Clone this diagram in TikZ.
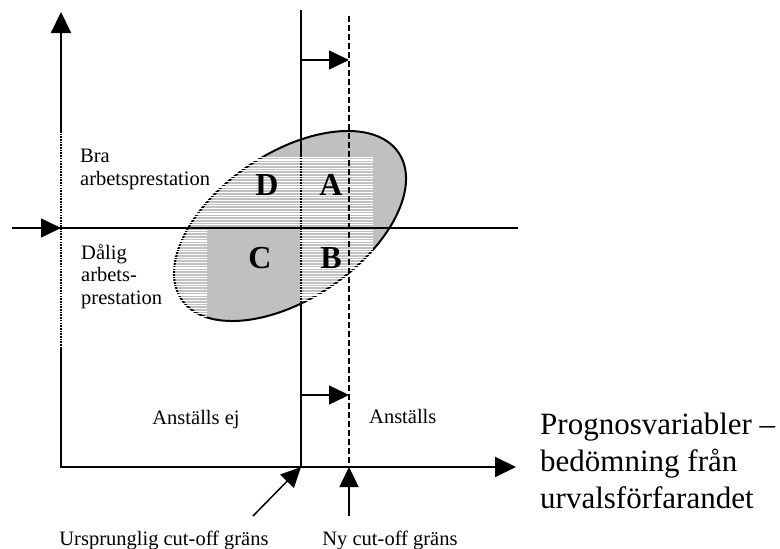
\documentclass[tikz,border=0pt]{standalone}
\usepackage{fontspec}
\setmainfont{Liberation Serif}
\usetikzlibrary{arrows.meta}
\definecolor{ellgray}{RGB}{192,192,192}
\tikzset{
  axis/.style={line width=2pt, {Triangle[length=21pt,width=20pt]}-{Triangle[length=21pt,width=20pt]}},
  push/.style={line width=1.5pt, -{Triangle[length=20pt,width=19pt]}},
  txt/.style={font=\fontsize{20.5}{22.5}\selectfont, inner sep=0pt, align=left},
  bigtxt/.style={font=\fontsize{31}{37}\selectfont, inner sep=0pt, align=left},
  quad/.style={font=\fontsize{32}{32}\selectfont\bfseries, inner sep=0pt}
}

\begin{document}
\begin{tikzpicture}[x=1pt,y=-1pt]
\useasboundingbox (0,0) rectangle (780,549);
% Coordinates
\coordinate (O) at (61,467);
\coordinate (ytop) at (61,12);
\coordinate (xend) at (516,467);
\coordinate (hstart) at (12,228);
\coordinate (hmid) at (61,228);
\coordinate (hend) at (518,228);
\coordinate (cuttop) at (301,10);
\coordinate (cutbot) at (301,467);
\coordinate (newtop) at (349,16);
\coordinate (newbot) at (349,467);
\coordinate (top1) at (301,60);
\coordinate (top2) at (349,60);
\coordinate (low1) at (301,395);
\coordinate (low2) at (349,395);
\coordinate (ursfoot) at (253,516);
\coordinate (nyfoot) at (349,516);
% Ellipse
\draw[fill=ellgray, line width=2pt, rotate around={34:(290,226)}] (290,226) ellipse [x radius=131, y radius=73];
% Lines under the hatching
\draw[axis] (ytop) -- (O) -- (xend);
\draw[line width=1.5pt] (cuttop) -- (cutbot);
% Hatching
\begin{scope}
  \clip (57,133) -- (250,133) -- (250,157) -- (373,157) -- (373,303) -- (300,303) -- (300,228)
    -- (207,228) -- (207,347) -- (57,347) -- cycle;
  \foreach \y in {133,135.7,...,348}
    \draw[white, line width=1.1pt] (57,\y) -- (373,\y);
\end{scope}
% Lines over the hatching
\draw[line width=1.3pt] (hstart) -- (hend);
\draw[push] (hstart) -- (hmid);
\draw[line width=1.6pt, dash pattern=on 6pt off 3pt] (newtop) -- (newbot);
\draw[push] (top1) -- (top2);
\draw[push] (low1) -- (low2);
\draw[push] (ursfoot) -- (cutbot);
\draw[push] (nyfoot) -- (newbot);
% Nodes
\node[quad, anchor=base] (D) at (267,195) {D};
\node[quad, anchor=base] (A) at (331,195) {A};
\node[quad, anchor=base] (C) at (260,268) {C};
\node[quad, anchor=base] (B) at (331,268) {B};
\node[txt, anchor=base west] (good) at (80,185) {Bra\\arbetsprestation};
\node[txt, anchor=base west] (bad) at (81,304) {Dålig\\arbets-\\prestation};
\node[txt, anchor=base] (noth) at (196,424) {Anställs ej};
\node[txt, anchor=base west] (hired) at (369,423) {Anställs};
\node[txt, anchor=base] (urs) at (164,545) {Ursprunglig cut-off gräns};
\node[txt, anchor=base] (ny) at (390,545) {Ny cut-off gräns};
\node[bigtxt, anchor=base west] (prog) at (540,508) {Prognosvariabler –\\bedömning från\\urvalsförfarandet};
\end{tikzpicture}
\end{document}
